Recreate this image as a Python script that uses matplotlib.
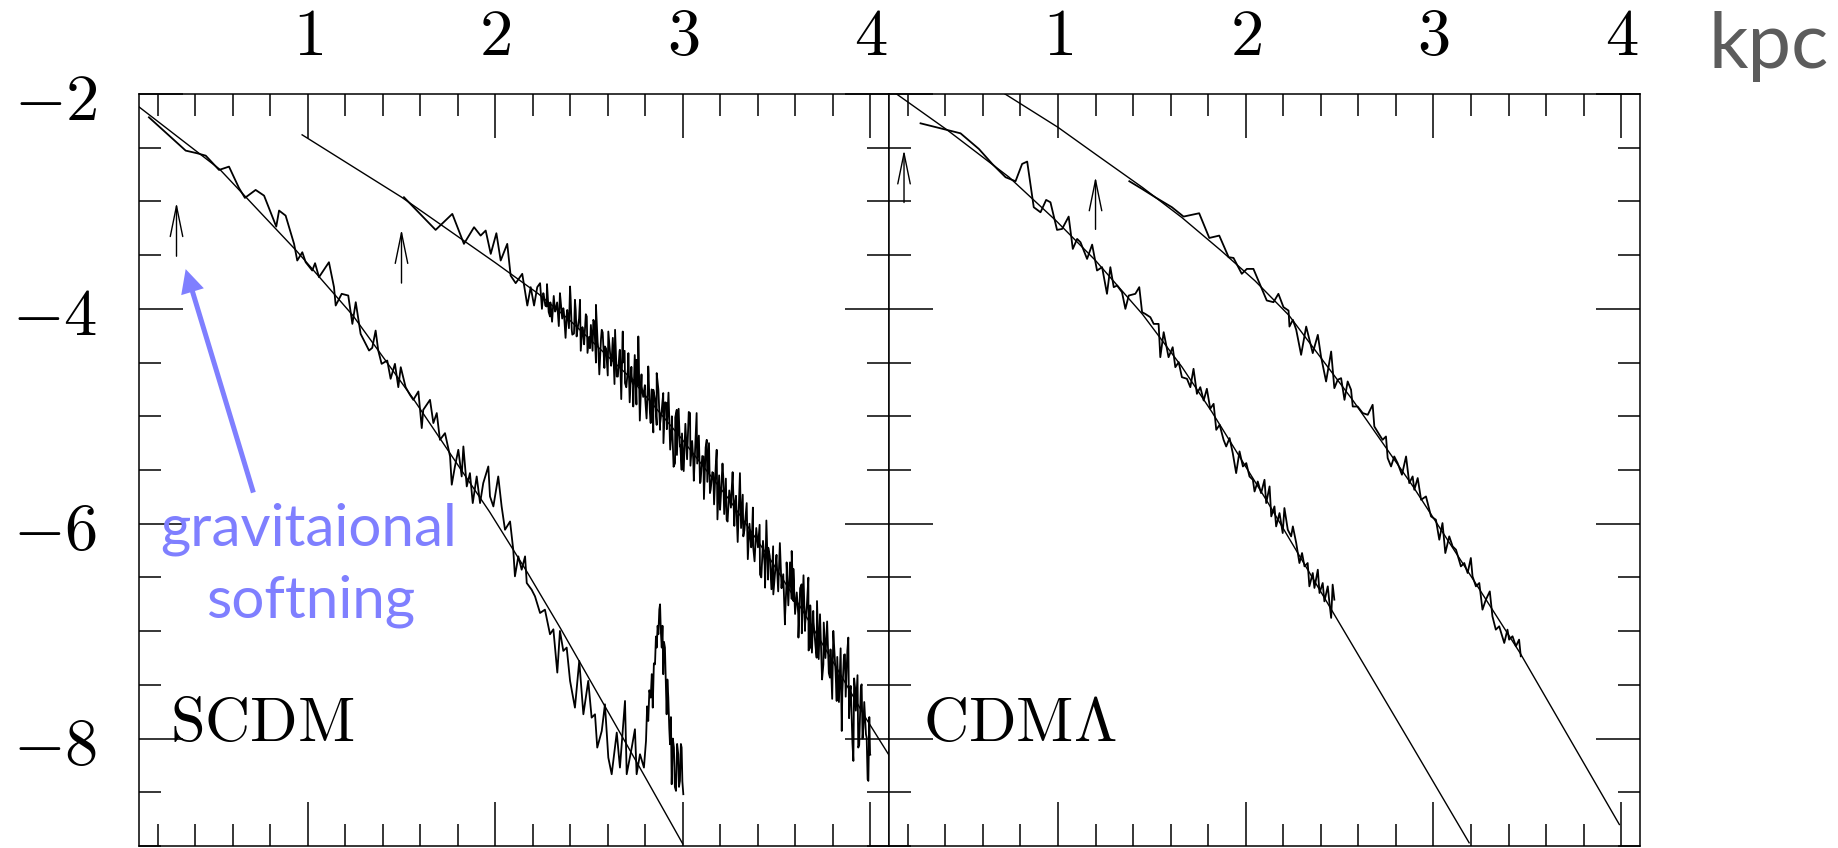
import matplotlib
matplotlib.use('Agg')
import matplotlib.pyplot as plt
from matplotlib.ticker import FixedLocator, MultipleLocator

# ---------------- data ----------------
xlim = (0.1, 4.1)
ylim = (-9.0, -2.0)
xtick_major = [1, 2, 3, 4]
xtick_labels = ['1', '2', '3', '4']
ytick_major = [-2, -4, -6, -8]
ytick_labels = ['-2', '-4', '-6', '-8']

# SCDM panel: fitted profiles
scdm_fit_inner_x = [0.10, 0.53, 0.94, 1.24, 1.56, 1.78, 1.97, 2.17, 2.35, 2.67, 2.80, 3.00]
scdm_fit_inner_y = [-2.12, -2.70, -3.46, -4.06, -4.83, -5.40, -5.89, -6.45, -6.98, -7.96, -8.36, -8.98]
scdm_fit_outer_x = [0.97, 1.50, 2.00, 2.23, 2.40, 2.72, 2.99, 3.25, 3.47, 3.64, 3.82, 3.98, 4.12]
scdm_fit_outer_y = [-2.38, -2.96, -3.57, -3.86, -4.11, -4.64, -5.20, -5.78, -6.34, -6.81, -7.34, -7.82, -8.21]

# SCDM panel: measured (noisy) profiles
scdm_data_inner_x = [0.153, 0.349, 0.411, 0.456, 0.527, 0.580, 0.633, 0.665, 0.722, 0.767,
                     0.832, 0.847, 0.882, 0.927, 0.944, 0.971, 0.989, 1.024, 1.039, 1.060,
                     1.113, 1.140, 1.149, 1.181, 1.216, 1.238, 1.256, 1.282, 1.327, 1.344,
                     1.362, 1.376, 1.394, 1.424, 1.442, 1.465, 1.483, 1.496, 1.522,
                     1.545, 1.563, 1.590, 1.608, 1.616, 1.652, 1.670, 1.688, 1.705, 1.732,
                     1.759, 1.768, 1.785, 1.803, 1.821, 1.830, 1.848, 1.865, 1.880, 1.901,
                     1.919, 1.936, 1.963, 1.972, 1.990, 2.016, 2.034, 2.052, 2.079, 2.096,
                     2.105, 2.123, 2.141, 2.159, 2.168, 2.194, 2.212, 2.239, 2.265, 2.283,
                     2.292, 2.310, 2.331, 2.345, 2.363, 2.381, 2.399, 2.425, 2.448, 2.470,
                     2.496, 2.514, 2.532, 2.544, 2.568, 2.585, 2.603, 2.621, 2.648, 2.665,
                     2.692, 2.701, 2.728, 2.745, 2.754, 2.772, 2.793, 2.804,
                     2.810, 2.816, 2.822, 2.829, 2.835, 2.840, 2.846, 2.852, 2.857, 2.861,
                     2.866, 2.870, 2.875, 2.879, 2.883, 2.888, 2.892, 2.896, 2.900, 2.905,
                     2.910, 2.914, 2.918, 2.923, 2.928, 2.932, 2.937, 2.941, 2.947, 2.953,
                     2.958, 2.964, 2.970, 2.976, 2.980, 2.985, 2.990, 2.994, 2.998, 3.003]
scdm_data_inner_y = [-2.217, -2.527, -2.552, -2.574, -2.707, -2.676, -2.874, -2.967, -2.893, -2.946,
                     -3.234, -3.085, -3.132, -3.395, -3.550, -3.473, -3.566, -3.643, -3.575, -3.705,
                     -3.566, -3.798, -3.969, -3.860, -3.876, -4.140, -3.938, -4.233, -4.388, -4.363,
                     -4.202, -4.388, -4.512, -4.481, -4.651, -4.512, -4.729, -4.543, -4.729,
                     -4.800, -4.847, -4.769, -5.110, -4.940, -4.847, -5.063, -4.970, -5.219, -5.157,
                     -5.374, -5.637, -5.467, -5.312, -5.560, -5.281, -5.653, -5.529, -5.808, -5.560,
                     -5.808, -5.622, -5.467, -5.746, -5.839, -5.560, -5.839, -6.056, -5.979, -6.242,
                     -6.490, -6.304, -6.428, -6.304, -6.552, -6.614, -6.676, -6.831, -6.800, -6.955,
                     -7.029, -6.983, -7.386, -6.998, -7.184, -7.153, -7.463, -7.712, -7.277, -7.774,
                     -7.463, -7.805, -7.774, -8.084, -7.929, -7.681, -8.177, -8.332, -7.944, -8.270,
                     -7.650, -8.332, -8.084, -7.913, -8.332, -8.146, -8.270, -8.022,
                     -7.700, -7.836, -7.550, -7.619, -7.400, -7.712, -7.300, -7.309, -7.050, -7.153,
                     -6.950, -7.029, -6.800, -6.750, -7.000, -7.153, -6.950, -7.401, -7.100, -7.153,
                     -7.500, -7.774, -7.450, -7.619, -7.900, -8.053, -7.800, -8.425, -8.000, -8.084,
                     -8.450, -8.487, -8.050, -8.146, -8.450, -8.394, -8.050, -8.084, -8.400, -8.518]

# outer SCDM profile: clearly readable spikes ...
scdm_data_outer_x = [1.513, 1.682, 1.771, 1.833, 1.887, 1.922, 1.949, 1.976, 2.006, 2.029,
                     2.064, 2.082, 2.109, 2.144, 2.171, 2.189, 2.207, 2.224,
                     2.239, 2.256, 2.274, 2.292, 2.319, 2.336, 2.345, 2.363, 2.381, 2.399,
                     2.408, 2.425, 2.434, 2.452, 2.470, 2.488, 2.505, 2.523, 2.537, 2.550,
                     2.568, 2.585, 2.603, 2.621, 2.639, 2.648, 2.665, 2.680, 2.692, 2.710,
                     2.728, 2.736, 2.754, 2.763, 2.781, 2.799, 2.816, 2.829, 2.843, 2.861,
                     2.879, 2.896, 2.914, 2.941, 2.959, 2.968, 2.985, 2.994, 3.012, 3.039,
                     3.056, 3.074, 3.092, 3.110, 3.128, 3.145, 3.163, 3.181, 3.199, 3.216,
                     3.234, 3.261, 3.279, 3.305, 3.323, 3.341, 3.368,
                     3.376, 3.412, 3.439, 3.456, 3.483, 3.501, 3.528, 3.545, 3.554, 3.581,
                     3.590, 3.616, 3.634, 3.652, 3.670, 3.679, 3.696, 3.714, 3.732, 3.750,
                     3.768, 3.785, 3.803, 3.821, 3.839, 3.848, 3.865, 3.883, 3.892, 3.910,
                     3.919, 3.936, 3.954, 3.963, 3.981, 3.990, 3.999]
scdm_data_outer_y = [-2.961, -3.265, -3.116, -3.395, -3.240, -3.318, -3.271, -3.488, -3.296, -3.550,
                     -3.395, -3.690, -3.761, -3.674, -3.969, -3.798, -3.969, -3.798,
                     -3.761, -3.854, -3.978, -4.071, -4.025, -4.087, -3.854, -3.994, -4.056, -3.792,
                     -4.195, -3.916, -4.257, -3.916, -4.226, -4.071, -4.366, -4.102, -3.963, -4.381,
                     -4.195, -4.350, -4.211, -4.474, -4.195, -4.630, -4.381, -4.211, -4.691, -4.412,
                     -4.630, -4.909, -4.474, -4.257, -4.722, -4.816, -4.536, -5.063, -4.753, -4.598,
                     -5.126, -4.784, -4.877, -5.095, -5.436, -4.940, -5.281, -5.498, -5.188, -4.970,
                     -5.405, -4.970, -5.622, -5.374, -5.219, -5.715, -5.529, -5.312, -5.870, -5.560,
                     -5.963, -5.684, -5.808, -5.529, -6.118, -5.808, -6.180,
                     -6.223, -6.472, -6.595, -6.223, -6.658, -6.347, -6.564, -6.937, -6.533, -6.254,
                     -6.719, -6.843, -6.564, -6.998, -6.502, -7.153, -6.812, -7.247, -6.843, -7.309,
                     -6.967, -7.433, -6.998, -7.650, -7.340, -7.929, -7.216, -7.060, -7.556, -8.208,
                     -7.526, -8.084, -7.495, -7.898, -7.991, -8.394, -8.146]
# ... and the densely sampled part of the same profile (estimated)
scdm_data_outer_dense_x = [
    2.240, 2.249, 2.258, 2.267, 2.276, 2.285, 2.294, 2.303, 2.312, 2.321,
    2.330, 2.339, 2.348, 2.357, 2.366, 2.375, 2.384, 2.393, 2.402, 2.411,
    2.420, 2.429, 2.438, 2.447, 2.456, 2.465, 2.474, 2.483, 2.492, 2.501,
    2.510, 2.519, 2.528, 2.537, 2.546, 2.555, 2.564, 2.573, 2.582, 2.591,
    2.600, 2.609, 2.618, 2.627, 2.636, 2.645, 2.654, 2.663, 2.672, 2.681,
    2.690, 2.699, 2.708, 2.717, 2.726, 2.735, 2.744, 2.753, 2.762, 2.771,
    2.780, 2.789, 2.798, 2.807, 2.816, 2.825, 2.834, 2.843, 2.852, 2.861,
    2.870, 2.879, 2.888, 2.897, 2.906, 2.915, 2.924, 2.933, 2.942, 2.951,
    2.960, 2.969, 2.978, 2.987, 2.996, 3.005, 3.014, 3.023, 3.032, 3.041,
    3.050, 3.059, 3.068, 3.077, 3.086, 3.095, 3.104, 3.113, 3.122, 3.131,
    3.140, 3.149, 3.158, 3.167, 3.176, 3.185, 3.194, 3.203, 3.212, 3.221,
    3.230, 3.239, 3.248, 3.257, 3.266, 3.275, 3.284, 3.293, 3.302, 3.311,
    3.320, 3.329, 3.338, 3.347, 3.356, 3.365, 3.374, 3.383, 3.392, 3.401,
    3.410, 3.419, 3.428, 3.437, 3.446, 3.455, 3.464, 3.473, 3.482, 3.491,
    3.500, 3.509, 3.518, 3.527, 3.536, 3.545, 3.554, 3.563, 3.572, 3.581,
    3.590, 3.599, 3.608, 3.617, 3.626, 3.635, 3.644, 3.653, 3.662, 3.671,
    3.680, 3.689, 3.698, 3.707, 3.716, 3.725, 3.734, 3.743, 3.752, 3.761,
    3.770, 3.779, 3.788, 3.797, 3.806, 3.815, 3.824, 3.833, 3.842, 3.851,
    3.860, 3.869, 3.878, 3.887, 3.896, 3.905, 3.914, 3.923, 3.932, 3.941,
    3.950, 3.959, 3.968, 3.977, 3.986, 3.995, 4.000]
scdm_data_outer_dense_y = [
    -3.78, -4.00, -3.86, -3.97, -3.77, -4.03, -3.94, -4.12, -3.88, -4.02,
    -3.94, -4.16, -3.91, -4.09, -4.03, -4.27, -4.01, -4.18, -3.90, -4.24,
    -4.23, -4.01, -4.20, -4.09, -4.39, -4.17, -4.33, -4.05, -4.41, -4.26,
    -4.15, -4.39, -4.12, -4.50, -4.31, -4.61, -4.28, -4.22, -4.55, -4.37,
    -4.62, -4.34, -4.53, -4.27, -4.70, -4.48, -4.63, -4.39, -4.84, -4.50,
    -4.39, -4.73, -4.55, -4.87, -4.54, -4.71, -4.43, -4.89, -4.71, -5.04,
    -4.61, -4.82, -4.71, -5.02, -4.62, -4.97, -4.75, -5.15, -4.84, -5.08,
    -4.75, -5.07, -4.94, -5.25, -4.87, -5.12, -4.78, -5.31, -5.00, -5.47,
    -5.01, -5.36, -4.93, -5.27, -5.16, -5.51, -5.07, -5.40, -4.96, -5.46,
    -5.23, -5.60, -5.22, -5.44, -5.18, -5.61, -5.37, -5.77, -5.29, -5.61,
    -5.25, -5.68, -5.52, -5.82, -5.46, -5.96, -5.55, -5.75, -5.44, -5.91,
    -5.58, -5.98, -5.69, -5.85, -5.52, -6.02, -5.74, -6.17, -5.71, -6.04,
    -5.73, -6.06, -5.87, -6.33, -6.00, -6.22, -5.85, -6.35, -6.04, -6.22,
    -6.01, -6.50, -6.16, -6.39, -5.97, -6.52, -6.30, -6.61, -6.21, -6.48,
    -6.29, -6.63, -6.18, -6.60, -6.47, -6.89, -6.36, -6.76, -6.36, -6.70,
    -6.42, -6.84, -6.64, -7.06, -6.60, -7.02, -6.48, -6.93, -6.76, -7.18,
    -6.76, -7.20, -6.92, -7.12, -6.72, -7.26, -6.95, -7.45, -6.92, -7.25,
    -6.91, -7.39, -7.17, -7.63, -7.10, -7.38, -7.24, -7.66, -7.16, -7.57,
    -7.22, -7.61, -7.18, -7.81, -7.51, -8.04, -7.44, -7.74, -7.41, -8.06,
    -7.52, -8.00, -7.66, -7.96, -8.38, -7.80, -8.15]

# CDM-Lambda panel: fitted profiles
lcdm_fit_inner_x = [0.10, 0.41, 0.74, 0.99, 1.20, 1.45, 1.66, 1.82, 2.11, 2.47, 2.87, 3.19]
lcdm_fit_inner_y = [-1.95, -2.335, -2.775, -3.18, -3.55, -4.05, -4.54, -4.96, -5.78, -6.84, -8.02, -8.97]
lcdm_fit_outer_x = [0.70, 1.00, 1.20, 1.45, 1.66, 1.87, 2.05, 2.23, 2.57, 2.89, 3.23, 3.46, 3.99]
lcdm_fit_outer_y = [-1.98, -2.31, -2.56, -2.87, -3.15, -3.46, -3.74, -4.06, -4.85, -5.65, -6.57, -7.20, -8.80]

# CDM-Lambda panel: measured (noisy) profiles
lcdm_data_inner_x = [0.268, 0.481, 0.579, 0.650, 0.721, 0.774, 0.809, 0.836, 0.871, 0.907,
                     0.937, 0.960, 0.995, 1.022, 1.057, 1.079, 1.102, 1.120, 1.155, 1.182,
                     1.208, 1.235, 1.261, 1.279, 1.297, 1.315, 1.341, 1.359, 1.377, 1.412,
                     1.433, 1.448, 1.465, 1.492, 1.510, 1.536, 1.545, 1.563, 1.589, 1.611,
                     1.625, 1.643, 1.660, 1.687, 1.705, 1.722, 1.740, 1.758, 1.776, 1.793,
                     1.811, 1.829,
                     1.843, 1.861, 1.882, 1.896, 1.914, 1.931, 1.949, 1.967, 1.985, 2.003,
                     2.020, 2.038, 2.047, 2.064, 2.082, 2.100, 2.109, 2.127, 2.136, 2.153,
                     2.162, 2.180, 2.197, 2.206, 2.224, 2.242, 2.251, 2.269, 2.286, 2.300,
                     2.313, 2.330, 2.339, 2.357, 2.366, 2.384, 2.393, 2.410, 2.419, 2.437,
                     2.446, 2.455, 2.463, 2.472]
lcdm_data_inner_y = [-2.273, -2.366, -2.512, -2.651, -2.775, -2.812, -2.651, -2.629, -3.054, -3.101,
                     -2.986, -3.008, -3.265, -3.256, -3.141, -3.442, -3.349, -3.380, -3.535, -3.402,
                     -3.643, -3.612, -3.860, -3.612, -3.798, -3.783, -3.845, -4.000, -3.876, -3.860,
                     -3.798, -4.031, -4.047, -4.078, -4.140, -4.140, -4.450, -4.217, -4.450, -4.357,
                     -4.543, -4.496, -4.636, -4.651, -4.729, -4.558, -4.791, -4.729, -4.853, -4.744,
                     -4.930, -4.884,
                     -5.126, -5.079, -5.219, -5.281, -5.203, -5.343, -5.529, -5.327, -5.467, -5.436,
                     -5.560, -5.591, -5.700, -5.607, -5.715, -5.591, -5.808, -5.653, -5.932, -5.839,
                     -6.025, -5.901, -6.087, -5.854, -6.056, -6.118, -6.025, -6.180, -6.366, -6.273,
                     -6.397, -6.366, -6.583, -6.459, -6.598, -6.428, -6.645, -6.552, -6.723, -6.583,
                     -6.738, -6.877, -6.567, -6.707]
lcdm_data_outer_x = [1.380, 1.448, 1.518, 1.607, 1.669, 1.752, 1.806, 1.859, 1.909, 1.935,
                     1.979, 2.006, 2.041, 2.112, 2.148, 2.174, 2.201, 2.228,
                     2.233, 2.251, 2.269, 2.295, 2.322, 2.357, 2.384, 2.401, 2.428, 2.455,
                     2.472, 2.490, 2.508, 2.526, 2.543, 2.561, 2.570, 2.596, 2.623, 2.650,
                     2.676, 2.685, 2.712, 2.729, 2.747, 2.756, 2.774, 2.791, 2.809, 2.832,
                     2.854, 2.871, 2.889, 2.898, 2.916, 2.934, 2.960, 2.987, 3.013, 3.031,
                     3.048, 3.063, 3.084, 3.102, 3.120, 3.146, 3.164, 3.182, 3.199, 3.208,
                     3.226,
                     3.244, 3.261, 3.279, 3.300, 3.314, 3.332, 3.350, 3.377, 3.394, 3.403,
                     3.421, 3.439, 3.456, 3.465]
lcdm_data_outer_y = [-2.812, -2.884, -2.961, -3.054, -3.141, -3.110, -3.340, -3.318, -3.519, -3.526,
                     -3.674, -3.628, -3.628, -3.922, -3.938, -3.860, -3.984, -4.016,
                     -4.165, -4.102, -4.195, -4.428, -4.165, -4.412, -4.242, -4.444, -4.676, -4.397,
                     -4.738, -4.660, -4.645, -4.847, -4.676, -4.753, -4.909, -4.909, -4.970, -4.986,
                     -4.893, -5.095, -5.172, -5.219, -5.188, -5.389, -5.467, -5.374, -5.436, -5.544,
                     -5.374, -5.622, -5.560, -5.684, -5.575, -5.777, -5.746, -5.932, -5.963, -6.149,
                     -5.994, -6.273, -6.118, -6.211, -6.242, -6.397, -6.366, -6.459, -6.319, -6.490,
                     -6.583,
                     -6.552, -6.800, -6.707, -6.630, -6.862, -6.986, -6.955, -7.110, -6.986, -7.079,
                     -7.048, -7.141, -7.079, -7.234]

# softening-length arrows: (x, y_tail, y_head)
scdm_arrows = [(0.30, -3.51, -3.01), (1.50, -3.76, -3.26)]
lcdm_arrows = [(0.18, -3.01, -2.52), (1.20, -3.26, -2.77)]

panel_labels = [r'$\mathrm{SCDM}$', r'$\mathrm{CDM}\Lambda$']
unit_label = 'kpc'
note_lines = ['gravitaional', 'softning']
note_arrow_head = (0.349, -3.63)
note_arrow_tail = (0.71, -5.71)

# ---------------- figure ----------------
plt.rcParams['mathtext.fontset'] = 'cm'

W, H = 1838, 848
fig = plt.figure(figsize=(W / 100, H / 100), dpi=100)
fig.patch.set_facecolor('white')

ax1 = fig.add_axes([139 / W, 2 / H, 750 / W, 752 / H])
ax2 = fig.add_axes([889 / W, 2 / H, 751 / W, 752 / H])

for ax in (ax1, ax2):
    ax.set_xlim(*xlim)
    ax.set_ylim(*ylim)
    ax.xaxis.set_major_locator(FixedLocator(xtick_major))
    ax.xaxis.set_minor_locator(MultipleLocator(0.2))
    ax.yaxis.set_major_locator(FixedLocator(ytick_major))
    ax.yaxis.set_minor_locator(MultipleLocator(0.5))
    ax.set_xticklabels([f'${t}$' for t in xtick_labels])
    ax.tick_params(which='both', direction='in', top=True, bottom=True,
                   left=True, right=True, width=1.1, color='black')
    ax.tick_params(which='major', length=32)
    ax.tick_params(which='minor', length=15.5)
    ax.tick_params(axis='x', which='both', labeltop=True, labelbottom=False,
                   pad=18, labelsize=48)
    for s in ax.spines.values():
        s.set_linewidth(1.1)

ax1.set_yticklabels([f'${t}$' for t in ytick_labels])
ax1.tick_params(axis='y', which='both', labelsize=48, pad=30)
ax2.tick_params(axis='y', which='both', labelleft=False)

lw_fit = 1.0
lw_data = 1.3

# merge the two readings of the outer SCDM profile in radius order
outer_pts = sorted(zip(scdm_data_outer_x + scdm_data_outer_dense_x,
                       scdm_data_outer_y + scdm_data_outer_dense_y))
outer_x = [p[0] for p in outer_pts]
outer_y = [p[1] for p in outer_pts]

ax1.plot(scdm_fit_inner_x, scdm_fit_inner_y, color='black', lw=lw_fit)
ax1.plot(scdm_fit_outer_x, scdm_fit_outer_y, color='black', lw=lw_fit)
ax1.plot(scdm_data_inner_x, scdm_data_inner_y, color='black', lw=lw_data)
ax1.plot(outer_x, outer_y, color='black', lw=lw_data)

ax2.plot(lcdm_fit_inner_x, lcdm_fit_inner_y, color='black', lw=lw_fit)
ax2.plot(lcdm_fit_outer_x, lcdm_fit_outer_y, color='black', lw=lw_fit)
ax2.plot(lcdm_data_inner_x, lcdm_data_inner_y, color='black', lw=lw_data)
ax2.plot(lcdm_data_outer_x, lcdm_data_outer_y, color='black', lw=lw_data)

for ax, arrows in ((ax1, scdm_arrows), (ax2, lcdm_arrows)):
    for (xa, y0, y1) in arrows:
        ax.annotate('', xy=(xa, y1), xytext=(xa, y0),
                    arrowprops=dict(arrowstyle='->,head_length=2.2,head_width=0.45',
                                    lw=1.0, color='black', shrinkA=0, shrinkB=0,
                                    mutation_scale=10))

ax1.text(0.265, -8.02, panel_labels[0], fontsize=45, va='baseline', ha='left')
ax2.text(0.281, -8.02, panel_labels[1], fontsize=45, va='baseline', ha='left')

# unit label
fig.text(1709 / W, 1 - 68 / H, unit_label, fontsize=56, color='#5c5c5c',
         family='Lato', va='baseline', ha='left')

# annotation
blue = '#7f7fff'
ax1.annotate('', xy=note_arrow_head, xytext=note_arrow_tail,
             arrowprops=dict(facecolor=blue, edgecolor='none', width=3.6,
                             headwidth=17, headlength=17, shrink=0))
fig.text(309 / W, 1 - 545 / H, note_lines[0], fontsize=42, color=blue,
         family='Lato', va='baseline', ha='center')
fig.text(311 / W, 1 - 618 / H, note_lines[1], fontsize=42, color=blue,
         family='Lato', va='baseline', ha='center')

fig.savefig('out.png', dpi=100)
